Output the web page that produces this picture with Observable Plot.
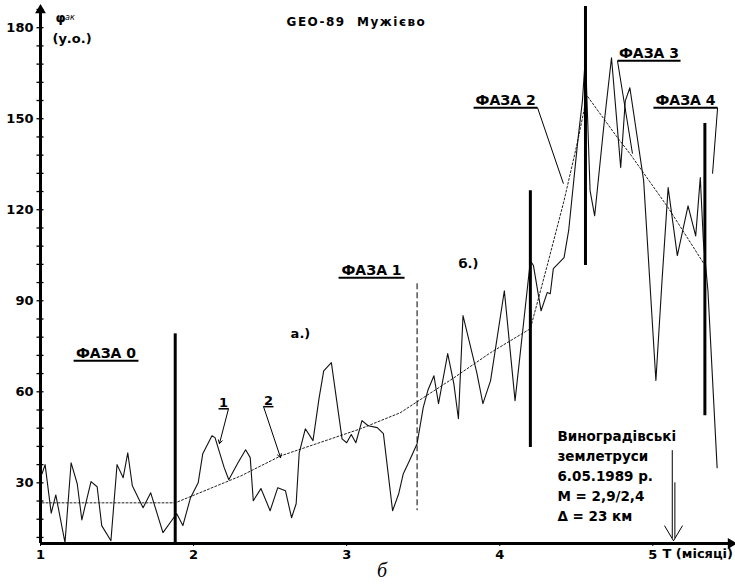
<!DOCTYPE html>
<html><head><meta charset="utf-8">
<script src="https://cdn.jsdelivr.net/npm/d3@7"></script>
<script src="https://cdn.jsdelivr.net/npm/@observablehq/plot@0.6"></script>
<style>
body{margin:0;background:#fff;position:relative;width:735px;height:588px;overflow:hidden;}
#cap{position:absolute;left:377px;top:559px;font-family:"Liberation Serif",serif;font-style:italic;font-size:20px;line-height:22px;color:#000;}
.ttl text{letter-spacing:1.5px;}
</style></head><body><div id="chart"></div><div id="cap">б</div>
<script>
// ---- data (time in months, value in у.о.) ----
const months = [1.01,1.03,1.07,1.10,1.16,1.20,1.24,1.27,1.33,1.37,1.40,1.46,1.50,1.54,1.57,1.60,1.67,1.72,1.80,1.87,1.89,1.93,1.98,2.03,2.06,2.12,2.14,2.20,2.23,2.29,2.34,2.37,2.39,2.44,2.50,2.55,2.60,2.64,2.67,2.69,2.73,2.78,2.82,2.85,2.90,2.97,3.00,3.03,3.06,3.10,3.14,3.20,3.24,3.30,3.34,3.37,3.41,3.46,3.50,3.53,3.57,3.60,3.66,3.70,3.73,3.76,3.85,3.89,3.94,4.03,4.10,4.20,4.22,4.27,4.31,4.33,4.35,4.42,4.45,4.48,4.51,4.54,4.56,4.59,4.62,4.68,4.73,4.79,4.82,4.85,4.94,4.98,5.02,5.06,5.10,5.16,5.23,5.28,5.31,5.33,5.36,5.42];
const values = [33,36,20,26,10.3,36.6,29.7,17.8,30.4,28.7,15.9,10.9,36,31.7,39.9,29,21.8,26.7,13.6,18.5,19.8,15.9,25.1,30,39.6,45.5,44.9,35,31,36.6,40.9,38.3,24.1,28.1,20.8,28.4,27.4,18.5,23.1,39.9,47.8,43.9,58,66.9,69.6,44.5,43.2,45.9,43.2,50.5,48.8,48.2,46.2,20.8,26.4,33,37.3,42.9,54.8,60.4,65.3,56.1,72.6,62.7,51.1,85.1,66.3,56.1,63.7,93.3,57.1,103.2,101.6,86.7,92.7,92.3,100.6,104.2,113.1,127.9,142.8,155.9,170.8,126.3,118,147.7,170.1,133.9,155.9,160.2,129.6,96.6,63.7,96.6,127.3,104.9,121.3,111.4,130.6,109.8,93.3,35];
const trendMonths = [1.01,1.88,2.31,2.57,3.09,3.35,3.70,3.94,4.20,4.31,4.42,4.51,4.57,4.77,4.85,5.10,5.33];
const trendValues = [23.4,23.4,32.3,38.9,47.8,53.1,64.6,72.9,80.8,101.6,123,142.8,157.6,143.7,138.5,120.7,102.5];

const xTicks = [1,2,3,4,5];
const yTicks = [30,60,90,120,150,180];
const yMinorTicks = d3.range(12,187,6);
const xDomain = [1,5.54];
const yDomain = [10,186];

// phase boundaries
const phaseX = [1.88,3.46,4.20,4.56,5.34];
const phaseTop = [79.1,95.6,126.3,187,148.4];
const phaseBottom = [10,20.8,41.6,101.6,52.1];
const phaseDashed = [false,true,false,false,false];

// phase labels (underlined)
const phaseLabels = ["ФАЗА 0","ФАЗА 1","ФАЗА 2","ФАЗА 3","ФАЗА 4"];
const labelX1 = [1.216,2.947,3.829,4.769,5.004];
const labelX2 = [1.640,3.378,4.247,5.181,5.423];
const labelY = [70.2,97.6,153.6,169.1,153.6];
const leaderFrom = [[4.247,153.6],[4.769,169.1],[5.423,153.6]];
const leaderTo = [[4.416,128.6],[4.867,138.5],[5.390,131.9]];

// curve markers 1 and 2
const curveNames = ["1","2"];
const curveUX1 = [2.163,2.457];
const curveUX2 = [2.228,2.522];
const curveUY = [54.4,55.1];
const curveArrowFrom = [[2.228,54.4],[2.457,55.1]];
const curveArrowTo = [[2.169,42.9],[2.568,38.3]];

// other notes
const notes = ["а.)","б.)"];
const noteX = [2.698,3.796];
const noteY = [79.1,102.2];

const quakeLines = ["Виноградівські","землетруси","6.05.1989 р.","М = 2,9/2,4","Δ = 23 км"];
const quakeX = 4.377;
const quakeY = [43.9,37.3,30.7,24.1,17.5];
const quakeShaftX = [5.127,5.144];
const quakeShaftTop = [40.6,30.0];
const quakeShaftBottom = 11.6;
const quakeHeadX = [5.076,5.194];
const quakeHeadY = 15.9;
const quakeTip = [5.135,10.9];

const series = d3.zip(months, values).map(([t,v]) => ({t,v}));
const trend = d3.zip(trendMonths, trendValues).map(([t,v]) => ({t,v}));
const phases = phaseX.map((x,i) => ({x, y1: phaseTop[i], y2: phaseBottom[i], dashed: phaseDashed[i]}));
const labels = phaseLabels.map((s,i) => ({s, x1: labelX1[i], x2: labelX2[i], xm: (labelX1[i]+labelX2[i])/2, y: labelY[i]}));
const leaders = leaderFrom.map((f,i) => ({x1:f[0],y1:f[1],x2:leaderTo[i][0],y2:leaderTo[i][1]}));
const curves = curveNames.map((s,i) => ({s, x1: curveUX1[i], x2: curveUX2[i], xm:(curveUX1[i]+curveUX2[i])/2, y: curveUY[i],
  ax1: curveArrowFrom[i][0], ay1: curveArrowFrom[i][1], ax2: curveArrowTo[i][0], ay2: curveArrowTo[i][1]}));
const quake = quakeLines.map((s,i) => ({s, y: quakeY[i]}));
const shafts = quakeShaftX.map((x,i) => ({x, y1: quakeShaftTop[i], y2: quakeShaftBottom}));
const heads = quakeHeadX.map(x => ({x1: x, y1: quakeHeadY, x2: quakeTip[0], y2: quakeTip[1]}));

const F = "DejaVu Sans";
const plot = Plot.plot({
  width: 735, height: 562,
  marginLeft: 40, marginRight: 0, marginTop: 9, marginBottom: 19,
  x: {domain: xDomain},
  y: {domain: yDomain},
  style: {fontFamily: F, fontWeight: "bold", fontSize: "13px", background: "#fff", color: "#000", overflow: "visible"},
  marks: [
    // axes
    Plot.axisY({ticks: yMinorTicks, tickSize: 7, dx: 3.5, tickFormat: () => "", label: null, strokeWidth: 1.3}),
    Plot.axisY({ticks: yTicks, tickSize: 0, tickPadding: 7, label: null, fontSize: 13, fontWeight: "bold"}),
    Plot.axisX({ticks: xTicks, tickFormat: d3.format("d"), tickSize: 3, tickPadding: 3, label: null, fontSize: 13, fontWeight: "bold"}),
    Plot.text(["Т (місяці)"], {x: 5.063, y: yDomain[0], dy: 14, text: d => d, textAnchor: "start", lineAnchor: "bottom", fontSize: 13, fontWeight: "bold"}),
    Plot.ruleX([xDomain[0]], {y1: yDomain[0], y2: yDomain[1] + 0.3, strokeWidth: 3, stroke: "#000"}),
    Plot.ruleY([yDomain[0]], {x1: xDomain[0], x2: xDomain[1] - 0.03, strokeWidth: 3, stroke: "#000"}),
    Plot.dot([0], {x: xDomain[0], y: yDomain[1] - 0.2, symbol: "triangle", r: 4, fill: "#000", stroke: null}),
    Plot.dot([0], {x: xDomain[1] - 0.03, y: yDomain[0], symbol: "triangle", r: 4, rotate: 90, fill: "#000", stroke: null}),
    // trend (curve 2)
    Plot.line(trend, {x: "t", y: "v", stroke: "#222", strokeWidth: 1, strokeDasharray: "2,2"}),
    // data (curve 1)
    Plot.line(series, {x: "t", y: "v", stroke: "#111", strokeWidth: 1.1}),
    // phase boundaries
    Plot.ruleX(phases.filter(d => !d.dashed), {x: "x", y1: "y1", y2: "y2", stroke: "#000", strokeWidth: 3}),
    Plot.ruleX(phases.filter(d => d.dashed), {x: "x", y1: "y1", y2: "y2", stroke: "#000", strokeWidth: 1, strokeDasharray: "6,3"}),
    // phase labels
    Plot.text(labels, {x: "xm", y: "y", text: "s", lineAnchor: "bottom", dy: -3, fontSize: 14, fontWeight: "bold"}),
    Plot.link(labels, {x1: "x1", x2: "x2", y1: "y", y2: "y", stroke: "#000", strokeWidth: 2}),
    Plot.link(leaders, {x1: "x1", y1: "y1", x2: "x2", y2: "y2", stroke: "#000", strokeWidth: 1}),
    // curve markers
    Plot.text(curves, {x: "xm", y: "y", text: "s", lineAnchor: "bottom", dy: -2, fontSize: 13, fontWeight: "bold"}),
    Plot.link(curves, {x1: "x1", x2: "x2", y1: "y", y2: "y", stroke: "#000", strokeWidth: 1.5}),
    Plot.arrow(curves, {x1: "ax1", y1: "ay1", x2: "ax2", y2: "ay2", stroke: "#000", strokeWidth: 1, headLength: 6}),
    // notes
    Plot.text(notes, {x: (d,i) => noteX[i], y: (d,i) => noteY[i], text: d => d, fontSize: 13, fontWeight: "bold"}),
    // y label
    Plot.text(["φ"], {x: 1.098, y: 183.3, text: d => d, textAnchor: "start", fontSize: 13, fontWeight: "bold"}),
    Plot.text(["ак"], {x: 1.16, y: 183.3, text: d => d, textAnchor: "start", fontSize: 8, fontStyle: "italic", fontWeight: "normal"}),
    Plot.text(["(у.о.)"], {x: 1.078, y: 176.4, text: d => d, textAnchor: "start", fontSize: 13, fontWeight: "bold"}),
    // title
    Plot.text(["GEO-89  Мужієво"], {x: 3.064, y: 180.5, text: d => d, lineAnchor: "bottom", fontSize: 12, fontWeight: "bold", className: "ttl"}),
    // earthquake note
    Plot.text(quake, {x: quakeX, y: "y", text: "s", textAnchor: "start", lineAnchor: "bottom", fontSize: 13.5, fontWeight: "bold"}),
    Plot.ruleX(shafts, {x: "x", y1: "y1", y2: "y2", stroke: "#000", strokeWidth: 1}),
    Plot.link(heads, {x1: "x1", y1: "y1", x2: "x2", y2: "y2", stroke: "#000", strokeWidth: 1})
  ]
});
document.getElementById("chart").appendChild(plot);
</script>
</body></html>
